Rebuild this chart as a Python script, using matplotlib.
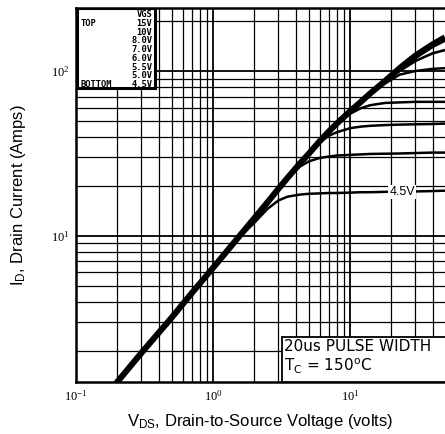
import matplotlib.pyplot as plt
from matplotlib.patches import Rectangle
from matplotlib.ticker import NullFormatter

# VDS sample points (volts), shared by all curves
vds = [0.17, 0.2, 0.3, 0.5, 0.7, 1.0, 1.5, 2.0, 2.5, 3.0, 3.5, 4.3, 5, 6, 7, 8,
       10, 12, 14, 18, 23, 30, 40, 49.3]

# drain current (amps), one list per VGS
id_15v = [1.1, 1.3, 1.95, 3.2, 4.5, 6.4, 9.6, 12.8, 16.0, 19.3, 22.5, 27.5, 31.5,
          37.5, 43, 48, 57, 65, 73, 87, 104, 124, 145, 160]
id_10v = [1.1, 1.3, 1.95, 3.2, 4.5, 6.4, 9.6, 12.8, 16.0, 19.3, 22.5, 27.5, 31.5,
          37.5, 43, 48, 57, 65, 73, 87, 103, 121, 141, 154]
id_8v = [1.1, 1.3, 1.95, 3.2, 4.5, 6.4, 9.6, 12.8, 16.0, 19.3, 22.5, 27.5, 31.5,
         37.5, 43, 48, 57, 65, 73, 86, 100, 115, 128, 134]
id_7v = [1.1, 1.3, 1.95, 3.2, 4.5, 6.4, 9.6, 12.8, 16.0, 19.3, 22.5, 27.5, 31.5,
         37.5, 43, 48, 57, 65, 72, 84, 95, 100, 103, 104]
id_6v = [1.1, 1.3, 1.95, 3.2, 4.5, 6.4, 9.6, 12.8, 16.0, 19.3, 22.5, 27.5, 31.5,
         37.5, 43, 47.5, 55, 59.5, 62, 64, 64.5, 65, 65, 65]
id_5v5 = [1.1, 1.3, 1.95, 3.2, 4.5, 6.4, 9.6, 12.8, 16.0, 19.3, 22.5, 27.5, 31.5,
          37, 40.5, 42.5, 45, 46, 46.5, 47, 47.3, 47.5, 47.7, 48]
id_5v = [1.1, 1.3, 1.95, 3.2, 4.5, 6.4, 9.6, 12.8, 16.0, 19.3, 22.3, 26.3, 28.3,
         29.7, 30.3, 30.7, 31, 31.2, 31.4, 31.5, 31.6, 31.8, 32, 32]
id_4v5 = [1.1, 1.3, 1.95, 3.2, 4.5, 6.4, 9.5, 12.0, 14.6, 16.4, 17.3, 17.8, 18.0,
          18.1, 18.2, 18.2, 18.3, 18.4, 18.4, 18.5, 18.5, 18.6, 18.7, 18.8]

vgs_labels = ["15V", "10V", "8.0V", "7.0V", "6.0V", "5.5V", "5.0V", "4.5V"]

plt.rcParams['font.family'] = ['Liberation Sans', 'DejaVu Sans']
plt.rcParams['mathtext.default'] = 'regular'

fig = plt.figure(figsize=(4.45, 4.34), dpi=100)
ax = fig.add_axes([76 / 445, 1 - 382 / 434, 369 / 445, 374 / 434])
ax.set_xscale('log')
ax.set_yscale('log')
ax.set_xlim(0.1, 49.3)
ax.set_ylim(1.3, 241)

# busy black grid, like the scanned datasheet
ax.grid(which='major', color='black', lw=1.3, zorder=1)
ax.grid(which='minor', color='black', lw=0.9, zorder=1)
ax.set_axisbelow(True)

# curves
all_ids = [id_15v, id_10v, id_8v, id_7v, id_6v, id_5v5, id_5v, id_4v5]
widths = [4.4, 2.6, 1.9, 1.8, 1.8, 1.8, 1.8, 1.8]
for ids, w in zip(all_ids, widths):
    ax.plot(vds, ids, color='black', lw=w, solid_capstyle='butt', zorder=3)

ax.text(24, 18.4, "4.5V", fontsize=9, ha='center', va='center', zorder=4,
        bbox=dict(facecolor='white', edgecolor='none', pad=0.8))

# axes frame
for s in ['left', 'bottom', 'top']:
    ax.spines[s].set_linewidth(1.8)
ax.spines['right'].set_visible(False)

ax.set_xticks([0.1, 1, 10])
ax.set_xticklabels([r'10$^{-1}$', r'10$^{0}$', r'10$^{1}$'],
                   family='Liberation Serif', fontsize=9)
ax.set_yticks([10, 100])
ax.set_yticklabels([r'10$^{1}$', r'10$^{2}$'], family='Liberation Serif', fontsize=9)
ax.xaxis.set_minor_formatter(NullFormatter())
ax.yaxis.set_minor_formatter(NullFormatter())
ax.tick_params(which='both', length=0, pad=5)

ax.set_xlabel(r'V$_{DS}$, Drain-to-Source Voltage (volts)', fontsize=12, labelpad=6)
ax.set_ylabel(r'I$_{D}$, Drain Current (Amps)', fontsize=12, labelpad=16)

# legend box, top left
ax.add_patch(Rectangle((0.003, 0.786), 0.211, 0.214, transform=ax.transAxes,
                       facecolor='white', edgecolor='black', lw=2.2, zorder=5))
row_step = 0.0234
mono = dict(family='DejaVu Sans Mono', weight='bold', fontsize=6.3, zorder=6,
            transform=ax.transAxes, va='center')
ax.text(0.207, 0.982, "VGS", ha='right', **mono)
for i, lab in enumerate(vgs_labels):
    ax.text(0.207, 0.982 - (i + 1) * row_step, lab, ha='right', **mono)
ax.text(0.013, 0.982 - row_step, "TOP", ha='left', **mono)
ax.text(0.013, 0.982 - 8 * row_step, "BOTTOM", ha='left', **mono)

# pulse width note, bottom right
ax.add_patch(Rectangle((0.558, 0.0), 0.45, 0.12, transform=ax.transAxes,
                       facecolor='white', edgecolor='black', lw=1.3, zorder=5))
ax.text(0.565, 0.094, "20us PULSE WIDTH", transform=ax.transAxes, family='DejaVu Sans',
        fontsize=11, va='center', ha='left', zorder=6)
ax.text(0.565, 0.042, r'T$_{C}$ = 150$^{o}$C', transform=ax.transAxes,
        family='DejaVu Sans', fontsize=11, va='center', ha='left', zorder=6)

plt.savefig('out.png', dpi=100)
plt.close()
